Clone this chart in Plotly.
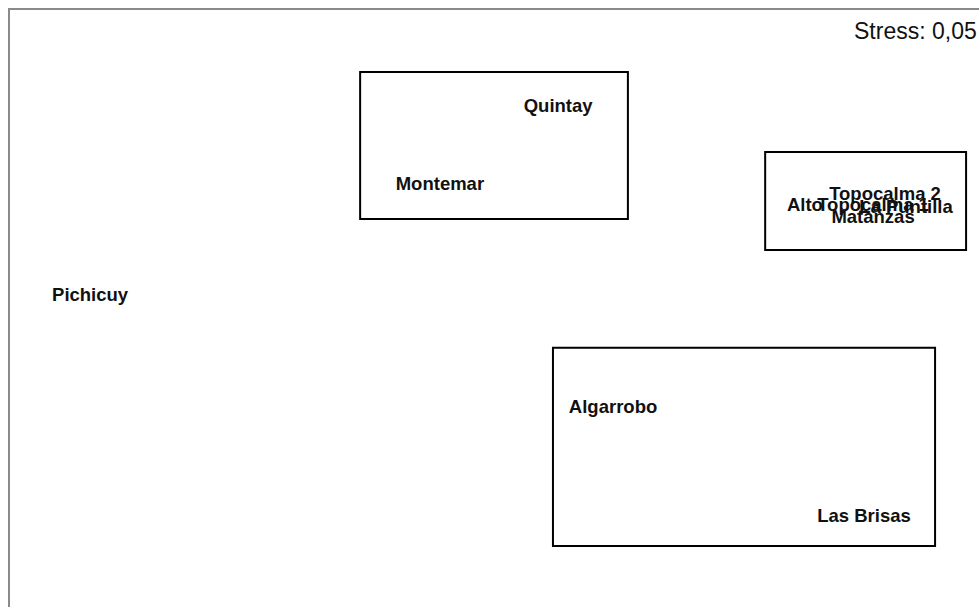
import plotly.graph_objs as go

# MDS ordination: site coordinates (dimension 1, dimension 2)
sites = ['Quintay', 'Montemar', 'Pichicuy', 'Algarrobo', 'Las Brisas',
         'Alto', 'Topocalma 1', 'Topocalma 2', 'La Puntilla', 'Matanzas']
dim1 = [0.197, -0.169, -1.252, 0.367, 1.144, 0.961, 1.172, 1.209, 1.274, 1.172]
dim2 = [0.624, 0.380, 0.039, -0.308, -0.646, 0.315, 0.318, 0.352, 0.311, 0.280]

# Group boxes (x0, x1, y0, y1)
box_x0 = [-0.416, 0.838, 0.181]
box_x1 = [0.413, 1.460, 1.364]
box_y0 = [0.733, 0.485, -0.122]
box_y1 = [0.277, 0.181, -0.736]

STRESS_TEXT = 'Stress: 0,05'

fig = go.Figure()

fig.add_trace(go.Scatter(
    x=dim1, y=dim2, mode='text', text=sites,
    textfont=dict(family='Liberation Sans, Arial, sans-serif', size=18.5, color='#111111'),
    texttemplate='<b>%{text}</b>', hoverinfo='text', showlegend=False))

for x0, x1, y0, y1 in zip(box_x0, box_x1, box_y0, box_y1):
    fig.add_shape(type='rect', x0=x0, x1=x1, y0=y0, y1=y1,
                  line=dict(color='black', width=2), layer='above')

fig.add_annotation(text=STRESS_TEXT, xref='paper', yref='paper', x=1.0, y=0.99,
                   xanchor='right', yanchor='top', showarrow=False,
                   font=dict(family='Liberation Sans, Arial, sans-serif', size=23, color='#111111'))

fig.update_xaxes(range=[-1.5, 1.5], side='top', showline=True, linecolor='#8a8a8a', linewidth=2,
                 showgrid=False, zeroline=False, showticklabels=False, ticks='')
fig.update_yaxes(range=[-0.925, 0.925], showline=True, linecolor='#8a8a8a', linewidth=2,
                 showgrid=False, zeroline=False, showticklabels=False, ticks='')

fig.update_layout(width=979, height=607, margin=dict(l=10, r=0, t=10, b=0),
                  plot_bgcolor='white', paper_bgcolor='white')

# drop the default page margin so the figure fills the window
fig.write_html('out.html', config={'displayModeBar': False},
               post_script="document.body.style.margin='0';")
